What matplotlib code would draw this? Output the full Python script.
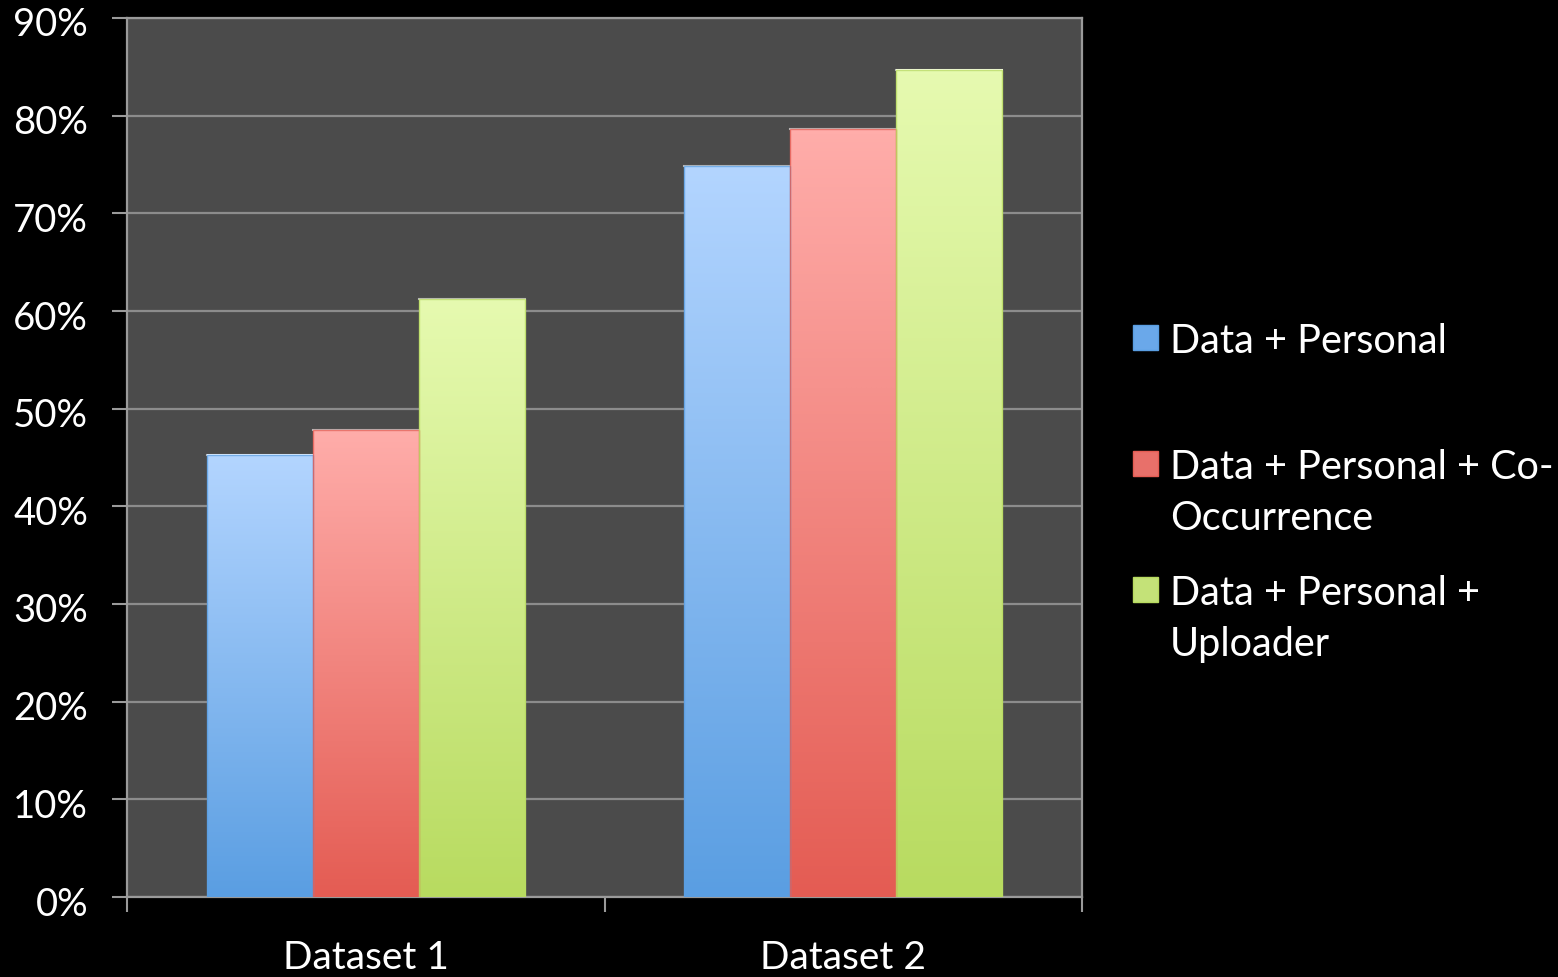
import numpy as np
import matplotlib
matplotlib.use('Agg')
from matplotlib import pyplot as plt
from matplotlib.colors import LinearSegmentedColormap
from matplotlib.patches import Rectangle
from matplotlib.ticker import FixedLocator, FuncFormatter
import matplotlib.transforms as mtransforms

# data (percent)
datasets = ['Dataset 1', 'Dataset 2']
series = ['Data + Personal', 'Data + Personal + Co-\nOccurrence', 'Data + Personal +\nUploader']
personal = [45.3, 74.8]
cooccur = [47.8, 78.6]
uploader = [61.2, 84.7]
values = [personal, cooccur, uploader]

# top colour / bottom colour per series
tops = ['#b3d5ff', '#ffadaa', '#e6fab0']
bottoms = ['#5a9ee2', '#e45c53', '#b8db60']
mids = ['#6aa8ea', '#e8706a', '#c4e278']

plt.rcParams['font.family'] = ['Lato', 'DejaVu Sans']

fig = plt.figure(figsize=(15.58, 9.77), dpi=100, facecolor='black')
ax = fig.add_axes([127/1558, 1 - 897/977, (1082-127)/1558, (897-18)/977])
ax.set_facecolor('#4b4b4b')

width = 1 / 4.5
x = np.arange(len(datasets))
for i, vals in enumerate(values):
    bars = ax.bar(x + (i - 1) * width, vals, width, color='none', edgecolor='none', zorder=3)
    cmap = LinearSegmentedColormap.from_list('g%d' % i, [bottoms[i], tops[i]])
    grad = np.linspace(0, 1, 256).reshape(-1, 1)
    for b in bars:
        bx, bw, bh = b.get_x(), b.get_width(), b.get_height()
        ax.imshow(grad, extent=[bx, bx + bw, 0, bh], origin='lower', cmap=cmap,
                  aspect='auto', zorder=3, interpolation='bilinear')
        ax.plot([bx, bx + bw], [bh, bh], color='white', lw=1.5, alpha=0.6, zorder=4)
        ax.add_patch(Rectangle((bx, 0), bw, bh, fill=False, edgecolor=bottoms[i],
                               lw=1, alpha=0.8, zorder=4))

ax.set_xlim(-0.5, 1.5)
ax.set_ylim(0, 90)
ax.set_yticks(np.arange(0, 91, 10))
ax.yaxis.set_major_formatter(FuncFormatter(lambda v, p: '%d%%' % v))
ax.grid(axis='y', color='#8c8c8c', lw=1.6, zorder=1)
ax.set_axisbelow(True)

ax.xaxis.set_major_locator(FixedLocator([-0.5, 0.5, 1.5]))
ax.xaxis.set_minor_locator(FixedLocator(x))
ax.set_xticklabels([])
ax.set_xticklabels(datasets, minor=True)
ax.tick_params(axis='x', which='major', length=11, width=1.5, color='#9a9a9a')
ax.tick_params(axis='x', which='minor', length=0, pad=31, labelsize=28, labelcolor='white')
ax.tick_params(axis='y', length=11, width=1.5, color='#9a9a9a', labelsize=27.5,
               labelcolor='white', pad=17)

# y labels sit a little below their ticks in the original
shift = mtransforms.ScaledTranslation(0, -4/100, fig.dpi_scale_trans)
for t in ax.yaxis.get_major_ticks():
    t.label1.set_transform(t.label1.get_transform() + shift)

for s in ['left', 'bottom', 'right', 'top']:
    ax.spines[s].set_color('#9a9a9a')
    ax.spines[s].set_linewidth(1.6)

# legend drawn by hand, Excel style
leg_base = [353, 479, 605]
for i, lab in enumerate(series):
    fig.patches.append(Rectangle((1133/1558, 1 - (leg_base[i] - 3)/977), 25/1558, 25/977,
                                 transform=fig.transFigure, facecolor=mids[i],
                                 edgecolor=bottoms[i], lw=1))
    first, *rest = lab.split('\n')
    fig.text(1170/1558, 1 - leg_base[i]/977, first, color='white', fontsize=28.5,
             va='baseline', ha='left')
    for j, line in enumerate(rest):
        fig.text(1170/1558, 1 - (leg_base[i] + 51 * (j + 1))/977, line, color='white',
                 fontsize=28.5, va='baseline', ha='left')

fig.savefig('out.png', dpi=100, facecolor='black')
